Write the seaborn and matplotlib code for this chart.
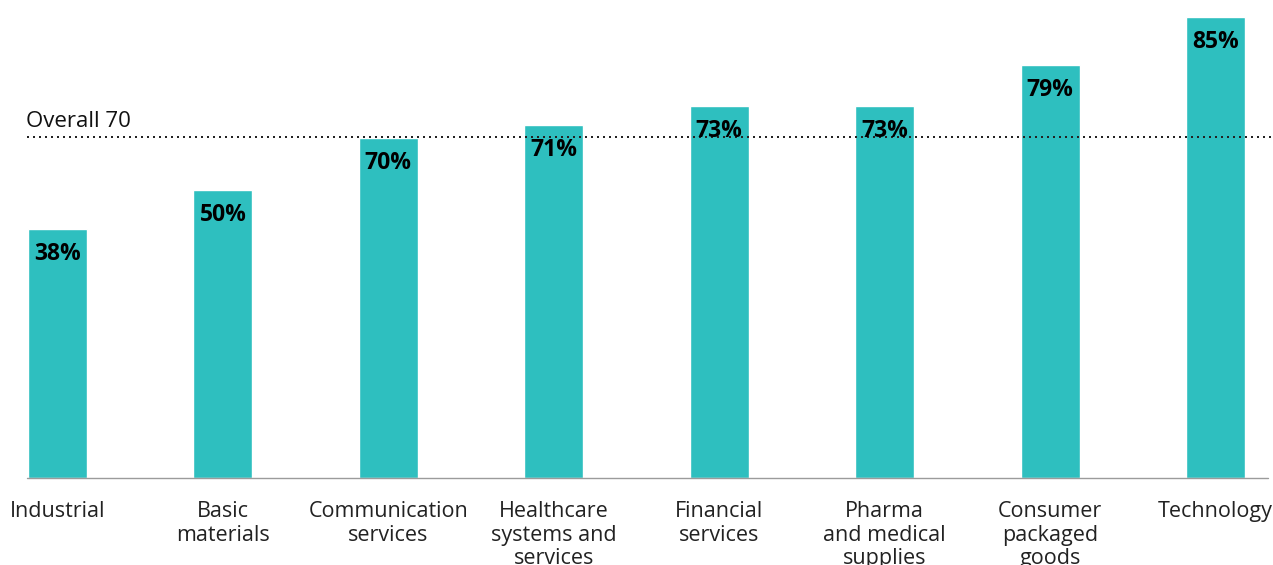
import matplotlib
matplotlib.use("Agg")
import matplotlib.pyplot as plt
import seaborn as sns
import pandas as pd

# ---- data ----
categories = ["Industrial", "Basic\nmaterials", "Communication\nservices",
              "Healthcare\nsystems and\nservices", "Financial\nservices",
              "Pharma\nand medical\nsupplies", "Consumer\npackaged\ngoods",
              "Technology"]
values = [38, 50, 70, 71, 73, 73, 79, 85]            # printed labels (%)
bar_heights = [51.3, 59.3, 70.0, 72.7, 76.6, 76.6, 85.0, 94.9]  # drawn bar lengths
overall_value = 70
overall_height = 70.2

sns.set_theme(style="white")
plt.rcParams["font.family"] = ["Open Sans", "DejaVu Sans"]

W, H = 1273, 565
fig = plt.figure(figsize=(W / 100, H / 100), dpi=100)
ax = fig.add_axes([0, 86.7 / H, 1, 478.3 / H])

df = pd.DataFrame({"category": categories, "height": bar_heights})
sns.barplot(data=df, x="category", y="height", color="#2EBFBF",
            saturation=1, width=0.357, ax=ax, zorder=2)

ax.set_xlim(-0.3476, 7.3475)
ax.set_ylim(0, 98.4)
for s in ax.spines.values():
    s.set_visible(False)
ax.set_yticks([])
ax.set_xlabel("")
ax.set_ylabel("")
ax.tick_params(axis="x", length=0, pad=16.6, labelsize=15.5, labelcolor="#222222")
for lbl in ax.get_xticklabels():
    lbl.set_linespacing(1.15)

# baseline
ax.axhline(0, xmin=27 / W, xmax=1268 / W, color="#9b9b9b", lw=1.0, clip_on=False, zorder=3)

# overall dotted line
ax.axhline(overall_height, xmin=27 / W, xmax=1, color="#222222", lw=1.44,
           linestyle=(0, (1, 2)), zorder=4)
ax.annotate(f"Overall {overall_value}", (26 / W, overall_height),
            xycoords=("axes fraction", "data"), xytext=(0, 7),
            textcoords="offset points", ha="left", va="baseline",
            fontsize=16, color="#111111")

# value labels
for i, (h, v) in enumerate(zip(bar_heights, values)):
    ax.annotate(f"{v}%", (i, h), xytext=(0, -31 * 0.72), textcoords="offset points",
                ha="center", va="baseline", fontsize=16.5, fontweight="bold",
                color="black", zorder=5)

fig.savefig("out.png", dpi=100)
